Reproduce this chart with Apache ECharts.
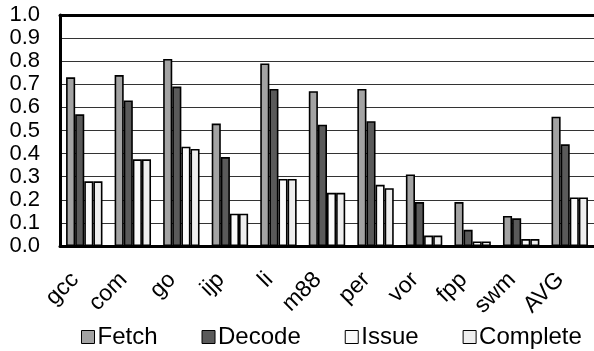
<!DOCTYPE html>
<html>
<head>
<meta charset="utf-8">
<script src="https://cdn.jsdelivr.net/npm/echarts@6/dist/echarts.min.js"></script>
<style>
html,body{margin:0;padding:0;background:#fff;}
#chart{width:594px;height:351px;}
</style>
</head>
<body>
<div id="chart"></div>
<script>
var categories = ['gcc','com','go','ijp','li','m88','per','vor','fpp','swm','AVG'];
var seriesNames = ['Fetch','Decode','Issue','Complete'];
var fetchValues    = [0.73, 0.74, 0.81, 0.53, 0.79, 0.67, 0.68, 0.31, 0.19, 0.13, 0.56];
var decodeValues   = [0.57, 0.63, 0.69, 0.385, 0.68, 0.525, 0.54, 0.19, 0.07, 0.12, 0.44];
var issueValues    = [0.28, 0.375, 0.43, 0.14, 0.29, 0.23, 0.265, 0.045, 0.02, 0.03, 0.21];
var completeValues = [0.28, 0.375, 0.42, 0.14, 0.29, 0.23, 0.25, 0.045, 0.02, 0.03, 0.21];
var yTicks = [0.0,0.1,0.2,0.3,0.4,0.5,0.6,0.7,0.8,0.9,1.0];

var colors = ['#a3a3a3','#5a5a5a','#fafafa','#eeeeee'];
var allValues = [fetchValues, decodeValues, issueValues, completeValues];
var FONT = '"Liberation Sans", Arial, sans-serif';

var chart = echarts.init(document.getElementById('chart'), null, {renderer:'canvas'});
var series = seriesNames.map(function(n, i){
  return {
    name: n, type: 'bar', data: allValues[i],
    barGap: '0%', barCategoryGap: '25%',
    itemStyle: {color: colors[i], borderColor: '#000', borderWidth: 1.6},
    emphasis: {disabled: true},
    animation: false
  };
});
chart.setOption({
  animation: false,
  grid: {left: 60, right: -4, top: 15, bottom: 105, containLabel: false},
  legend: {
    data: seriesNames, left: 81, top: 325, padding: 0, itemGap: 44, itemWidth: 13, itemHeight: 13,
    icon: 'rect',
    itemStyle: {borderColor: '#000', borderWidth: 1},
    textStyle: {fontFamily: FONT, fontSize: 24, color: '#000', padding: [0, 0, 0, -2]}
  },
  xAxis: [{
    type: 'category', data: categories, position: 'bottom',
    axisLine: {show: true, lineStyle: {color: '#000', width: 3}},
    axisTick: {show: false},
    axisLabel: {rotate: 45, margin: 21, padding: [0, 13, 0, 0], interval: 0,
      fontFamily: FONT, fontSize: 23, color: '#000'}
  }, {
    type: 'category', data: categories, position: 'top',
    axisLine: {show: true, lineStyle: {color: '#000', width: 3}},
    axisTick: {show: false}, axisLabel: {show: false}
  }],
  yAxis: {
    type: 'value', min: yTicks[0], max: yTicks[yTicks.length-1], interval: 0.1,
    axisLine: {show: true, lineStyle: {color: '#000', width: 3}},
    axisTick: {show: false},
    splitLine: {show: true, lineStyle: {color: '#333', width: 1}},
    axisLabel: {margin: 20, fontFamily: FONT, fontSize: 22, color: '#000',
      formatter: function(v){ return v.toFixed(1); }}
  },
  series: series
});
</script>
</body>
</html>
